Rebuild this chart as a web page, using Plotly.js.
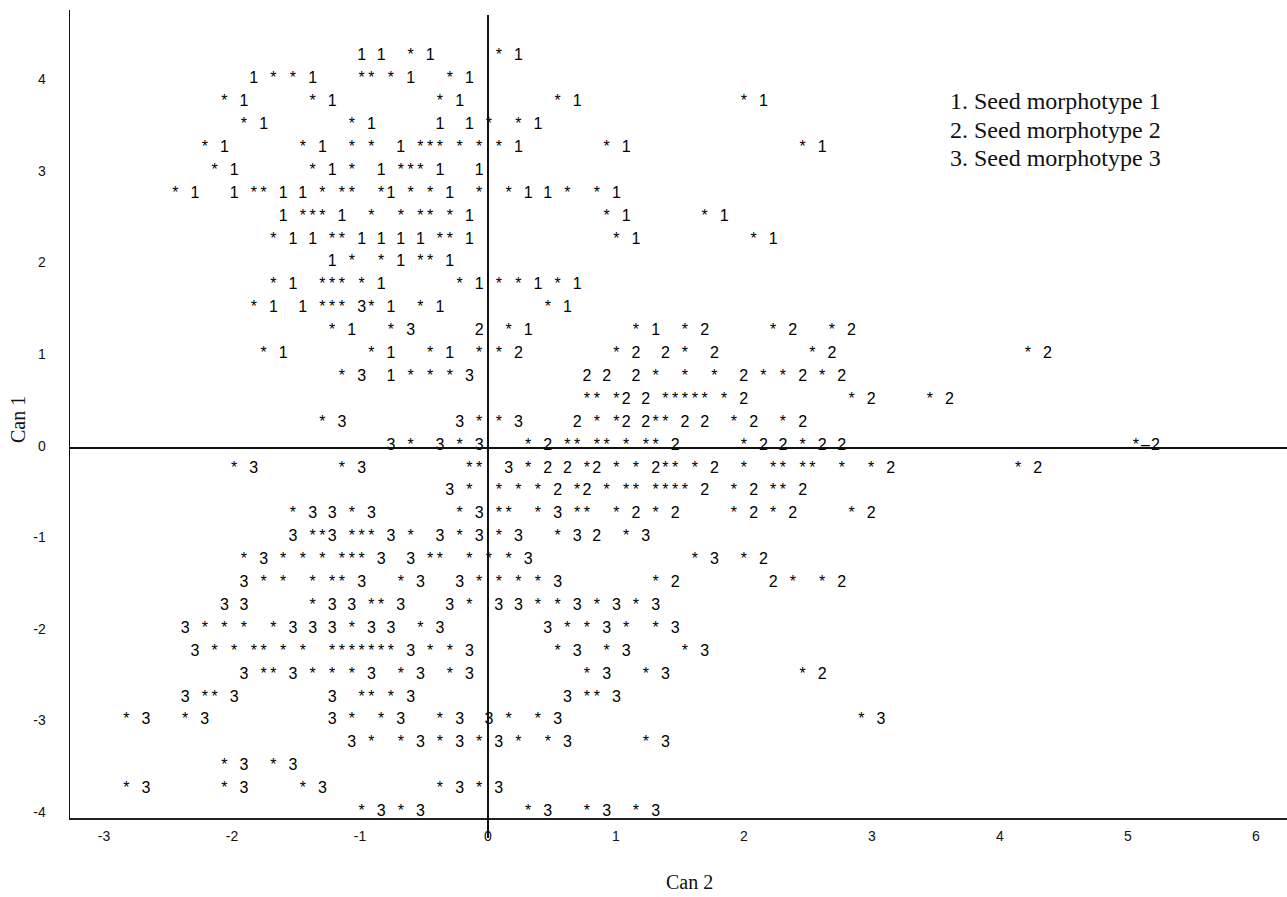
<!DOCTYPE html>
<html><head><meta charset="utf-8">
<script src="https://cdn.plot.ly/plotly-3.0.1.min.js"></script>
<style>html,body{margin:0;padding:0;background:#fff;} #chart{width:1287px;height:897px;}</style>
</head><body><div id="chart"></div>
<script>
// Line-printer canonical plot: each row is a Can 1 level; tokens are "column:characters"
const rowY = [4.25, 4, 3.75, 3.5, 3.25, 3, 2.75, 2.5, 2.25, 2, 1.75, 1.5, 1.25, 1, 0.75, 0.5, 0.25, 0,
  -0.25, -0.5, -0.75, -1, -1.25, -1.5, -1.75, -2, -2.25, -2.5, -2.75, -3, -3.25, -3.5, -3.75, -4];
const rowMarks = [
  "24:1 26:1 29:* 31:1 38:* 40:1",
  "13:1 15:* 17:* 19:1 24:** 27:* 29:1 33:* 35:1",
  "10:* 12:1 19:* 21:1 32:* 34:1 44:* 46:1 63:* 65:1",
  "12:* 14:1 23:* 25:1 32:1 35:1 37:* 40:* 42:1",
  "8:* 10:1 18:* 20:1 23:* 25:* 28:1 30:*** 34:* 36:* 38:* 40:1 49:* 51:1 69:* 71:1",
  "9:* 11:1 19:* 21:1 23:* 26:1 28:*** 32:1 36:1",
  "5:* 7:1 11:1 13:** 16:1 18:1 20:* 22:** 26:*1 29:* 31:* 33:1 36:* 39:* 41:1 43:1 45:* 48:* 50:1",
  "16:1 18:*** 22:1 25:* 28:* 30:** 33:* 35:1 49:* 51:1 59:* 61:1",
  "15:* 17:1 19:1 21:** 24:1 26:1 28:1 30:1 32:** 35:1 50:* 52:1 64:* 66:1",
  "21:1 23:* 26:* 28:1 30:** 33:1",
  "15:* 17:1 20:*** 24:* 26:1 34:* 36:1 38:* 40:* 42:1 44:* 46:1",
  "13:* 15:1 18:1 20:*** 24:3* 27:1 30:* 32:1 43:* 45:1",
  "21:* 23:1 27:* 29:3 36:2 39:* 41:1 52:* 54:1 57:* 59:2 66:* 68:2 72:* 74:2",
  "14:* 16:1 25:* 27:1 31:* 33:1 36:* 38:* 40:2 50:* 52:2 55:2 57:* 60:2 70:* 72:2 92:* 94:2",
  "22:* 24:3 27:1 29:* 31:* 33:* 35:3 47:2 49:2 52:2 54:* 57:* 60:* 63:2 65:* 67:* 69:2 71:* 73:2",
  "47:** 50:*2 53:2 55:***** 61:* 63:2 74:* 76:2 82:* 84:2",
  "20:* 22:3 34:3 36:* 38:* 40:3 46:2 48:* 50:*2 53:2** 57:2 59:2 62:* 64:2 67:* 69:2",
  "27:3 29:* 32:3 34:* 36:3 41:* 43:2 45:** 48:** 51:* 53:** 56:2 63:* 65:2 67:2 69:* 71:2 73:2 103:*–2",
  "11:* 13:3 22:* 24:3 35:** 39:3 41:* 43:2 45:2 47:*2 50:* 52:* 54:2** 58:* 60:2 63:* 66:** 69:** 73:* 76:* 78:2 91:* 93:2",
  "33:3 35:* 38:* 40:* 42:* 44:2 46:*2 49:* 51:** 54:**** 59:2 62:* 64:2 66:** 69:2",
  "17:* 19:3 21:3 23:* 25:3 34:* 36:3 38:** 42:* 44:3 46:** 50:* 52:2 54:* 56:2 62:* 64:2 66:* 68:2 74:* 76:2",
  "17:3 19:**3 23:*** 27:3 29:* 32:3 34:* 36:3 38:* 40:3 44:* 46:3 48:2 51:* 53:3",
  "12:* 14:3 16:* 18:* 20:* 22:*** 26:3 29:3 31:** 35:* 37:* 39:* 41:3 58:* 60:3 63:* 65:2",
  "12:3 14:* 16:* 19:* 21:** 24:3 28:* 30:3 34:3 36:* 38:* 40:* 42:* 44:3 54:* 56:2 66:2 68:* 71:* 73:2",
  "10:3 12:3 19:* 21:3 23:3 25:** 28:3 33:3 35:* 38:3 40:3 42:* 44:* 46:3 48:* 50:3 52:* 54:3",
  "6:3 8:* 10:* 12:* 15:* 17:3 19:3 21:3 23:* 25:3 27:3 30:* 32:3 43:3 45:* 47:* 49:3 51:* 54:* 56:3",
  "7:3 9:* 11:* 13:** 16:* 18:* 21:******* 29:3 31:* 33:* 35:3 44:* 46:3 49:* 51:3 57:* 59:3",
  "12:3 14:** 17:3 19:* 21:* 23:* 25:3 28:* 30:3 33:* 35:3 47:* 49:3 53:* 55:3 69:* 71:2",
  "6:3 8:** 11:3 21:3 24:** 27:* 29:3 45:3 47:** 50:3",
  "0:* 2:3 6:* 8:3 21:3 23:* 26:* 28:3 32:* 34:3 37:3 39:* 42:* 44:3 75:* 77:3",
  "23:3 25:* 28:* 30:3 32:* 34:3 36:* 38:3 40:* 43:* 45:3 53:* 55:3",
  "10:* 12:3 15:* 17:3",
  "0:* 2:3 10:* 12:3 18:* 20:3 32:* 34:3 36:* 38:3",
  "24:* 26:3 28:* 30:3 41:* 43:3 47:* 49:3 52:* 54:3"
];
const xTickVals = [-3, -2, -1, 0, 1, 2, 3, 4, 5, 6];
const xTickText = ["-3", "-2", "-1", "0", "1", "2", "3", "4", "5", "6"];
const yTickVals = [-4, -3, -2, -1, 0, 1, 2, 3, 4];
const yTickText = ["-4", "-3", "-2", "-1", "0", "1", "2", "3", "4"];
const legendLines = ["1. Seed morphotype 1", "2. Seed morphotype 2", "3. Seed morphotype 3"];
const xTitle = "Can 2";
const yTitle = "Can 1";

// character grid of the printer plot (column -> Can 2 value)
const GRID_X0 = -2.825, GRID_DX = 0.07656;
const xs = [], ys = [], ts = [];
rowMarks.forEach((row, i) => {
  row.split(' ').forEach(tok => {
    const k = tok.indexOf(':');
    const c0 = +tok.slice(0, k);
    [...tok.slice(k + 1)].forEach((ch, j) => {
      xs.push(GRID_X0 + (c0 + j) * GRID_DX);
      ys.push(rowY[i]);
      ts.push(ch);
    });
  });
});

const sans = 'Liberation Sans, Arial, Helvetica, sans-serif';
const serif = 'Liberation Serif, Times New Roman, serif';

const trace = {
  type: 'scatter', mode: 'text', x: xs, y: ys, text: ts,
  textposition: 'middle center', cliponaxis: false, hoverinfo: 'skip',
  textfont: {family: sans, size: 16, color: '#000'}, showlegend: false
};

const legendY = [0.8874, 0.8515, 0.8168];
const annotations = legendLines.map((t, i) => ({
  text: t, xref: 'paper', yref: 'paper', x: 0.7214, y: legendY[i],
  xanchor: 'left', yanchor: 'middle', showarrow: false,
  font: {family: serif, size: 24, color: '#111'}
}));
annotations.push({text: xTitle, xref: 'paper', yref: 'paper', x: 0.5094, y: -0.0792,
  xanchor: 'center', yanchor: 'middle', showarrow: false, font: {family: serif, size: 20, color: '#111'}});
annotations.push({text: yTitle, xref: 'paper', yref: 'paper', x: -0.0427, y: 0.4926, textangle: -90,
  xanchor: 'center', yanchor: 'middle', showarrow: false, font: {family: serif, size: 20, color: '#111'}});

const layout = {
  width: 1287, height: 897,
  margin: {l: 70, r: 0, t: 10, b: 79},
  paper_bgcolor: '#fff', plot_bgcolor: '#fff',
  showlegend: false,
  xaxis: {range: [-3.2656, 6.2422], tickvals: xTickVals, ticktext: xTickText,
    showgrid: false, zeroline: false, showline: true, linewidth: 2, linecolor: '#222',
    ticks: '', ticklabelstandoff: 4, tickfont: {family: sans, size: 14, color: '#111'}},
  yaxis: {range: [-4.065, 4.756], tickvals: yTickVals, ticktext: yTickText,
    showgrid: false, zeroline: false,
    showline: true, linewidth: 1.5, linecolor: '#111',
    ticks: '', ticklabelstandoff: 20, tickfont: {family: sans, size: 14, color: '#111'}},
  shapes: [
    {type: 'line', xref: 'x', yref: 'paper', x0: 0, x1: 0, y0: -0.0248, y1: 0.9938,
      line: {color: '#111', width: 2}},
    {type: 'line', xref: 'paper', yref: 'y', x0: 0, x1: 1, y0: -0.025, y1: -0.025,
      line: {color: '#111', width: 2}}
  ],
  annotations: annotations
};

Plotly.newPlot('chart', [trace], layout, {displayModeBar: false, staticPlot: true});
</script>
</body></html>
